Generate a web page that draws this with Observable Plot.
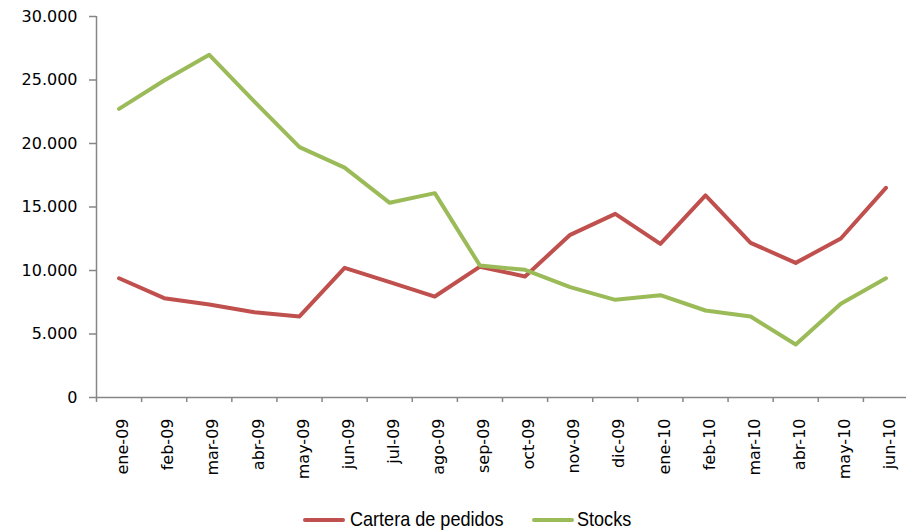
<!DOCTYPE html>
<html>
<head>
<meta charset="utf-8">
<script src="https://cdn.jsdelivr.net/npm/d3@7"></script>
<script src="https://cdn.jsdelivr.net/npm/@observablehq/plot@0.6"></script>
<style>
  html, body { margin: 0; padding: 0; background: #fff; }
  #wrap { position: relative; width: 906px; height: 531px; overflow: hidden; }
  #legend { position: absolute; left: 0; top: 506px; width: 906px; height: 26px;
    font-family: "Liberation Sans", Arial, sans-serif; font-size: 21px; color: #000; }
  .sw { position: absolute; top: 12px; width: 42px; height: 4px; border-radius: 2px; }
  .lt { position: absolute; top: 1px; white-space: nowrap; transform: scaleX(0.86); transform-origin: 0 50%; line-height: 24px; }
</style>
</head>
<body>
<div id="wrap">
  <div id="chart"></div>
  <div id="legend"></div>
</div>
<script>
const months = ["ene-09","feb-09","mar-09","abr-09","may-09","jun-09","jul-09","ago-09","sep-09",
  "oct-09","nov-09","dic-09","ene-10","feb-10","mar-10","abr-10","may-10","jun-10"];
const cartera = [9390, 7820, 7320, 6720, 6380, 10210, 9080, 7950, 10300, 9530, 12810, 14460, 12100, 15910, 12180, 10600, 12520, 16510];
const stocks = [22730, 24960, 26980, 23300, 19710, 18100, 15330, 16090, 10390, 10050, 8690, 7690, 8060, 6850, 6380, 4170, 7380, 9390];
const seriesNames = ["Cartera de pedidos", "Stocks"];
const seriesColors = ["#C0504D", "#9BBB59"];
const yTicks = [0, 5000, 10000, 15000, 20000, 25000, 30000];

const gray = "#868686";
const fmt = d3.formatLocale({decimal: ",", thousands: ".", grouping: [3], currency: ["", ""]}).format(",");

const chart = Plot.plot({
  width: 906,
  height: 500,
  marginTop: 16,
  marginLeft: 96,
  marginRight: 0,
  marginBottom: 103,
  style: {fontFamily: "DejaVu Sans", fontSize: "16px", color: "#000", background: "#fff"},
  x: {domain: [0, months.length], range: [96, 908]},
  y: {domain: [0, 30000], range: [397, 16]},
  marks: [
    Plot.axisY({ticks: yTicks, tickSize: 7, tickPadding: 12, tickFormat: fmt, label: null,
      stroke: gray, strokeWidth: 1.5, fill: "#000", fontSize: 16}),
    Plot.axisX({ticks: d3.range(months.length + 1), tickSize: 5, tickFormat: () => "", label: null,
      stroke: gray, strokeWidth: 1.5}),
    Plot.axisX({ticks: d3.range(months.length).map(i => i + 0.5), tickSize: 0, tickPadding: 21,
      tickRotate: -90, tickFormat: v => months[Math.floor(v)], label: null, dx: 4, fill: "#000", fontSize: 16}),
    Plot.ruleX([0], {y1: 0, y2: 30000, stroke: gray, strokeWidth: 1.5}),
    Plot.ruleY([0], {stroke: gray, strokeWidth: 1.5}),
    Plot.line(cartera, {x: (d, i) => i + 0.5, y: d => d, stroke: seriesColors[0], strokeWidth: 4,
      strokeLinejoin: "round", strokeLinecap: "round"}),
    Plot.line(stocks, {x: (d, i) => i + 0.5, y: d => d, stroke: seriesColors[1], strokeWidth: 4,
      strokeLinejoin: "round", strokeLinecap: "round"})
  ]
});
document.getElementById("chart").appendChild(chart);

const legend = document.getElementById("legend");
const swatchX = [303, 532];
const textX = [350, 577];
seriesNames.forEach((name, i) => {
  const sw = document.createElement("span");
  sw.className = "sw";
  sw.style.left = swatchX[i] + "px";
  sw.style.background = seriesColors[i];
  const t = document.createElement("span");
  t.className = "lt";
  t.style.left = textX[i] + "px";
  t.textContent = name;
  legend.appendChild(sw);
  legend.appendChild(t);
});
</script>
</body>
</html>
